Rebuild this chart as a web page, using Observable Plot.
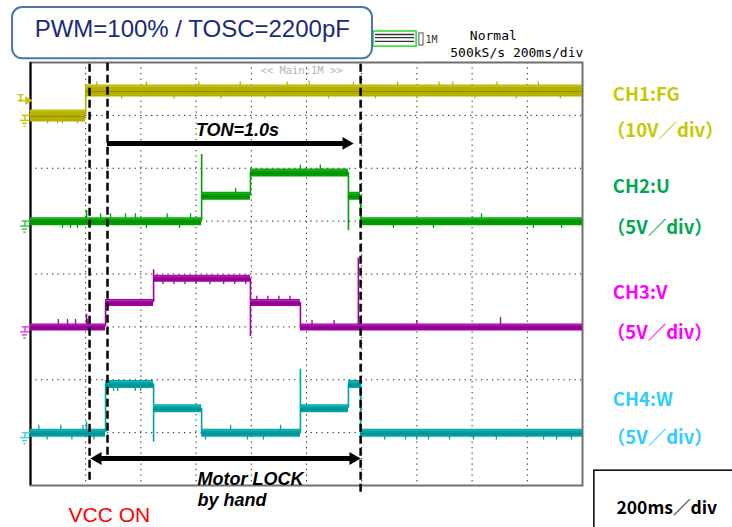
<!DOCTYPE html>
<html>
<head>
<meta charset="utf-8">
<script src="https://cdn.jsdelivr.net/npm/d3@7"></script>
<script src="https://cdn.jsdelivr.net/npm/@observablehq/plot@0.6"></script>
<style>
  html, body { margin: 0; padding: 0; background: #fff; overflow: hidden; }
  #chart svg { display: block; }
</style>
</head>
<body>
<div id="chart"></div>
<script>
// ---------- data (time in ms, 200 ms/div; vertical in scope divisions) ----------
const timeGrid = [200, 400, 600, 800, 1000, 1200, 1400, 1600, 1800];
const divGrid = [1, 2, 3, 4, 5, 6, 7];

const channelNames = ["CH1:FG", "CH2:U", "CH3:V", "CH4:W"];
const channelScales = ["（10V／div）", "（5V／div）", "（5V／div）", "（5V／div）"];
const voltsPerDiv = [10, 5, 5, 5];
const groundDiv = [7, 5, 3, 1];

// step waveforms: edge times (ms) and level (V) of each segment
const ch1Times = [0, 200, 2000];
const ch1Levels = [0, 4.7];
const ch2Times = [0, 620, 797, 1152, 1196, 2000];
const ch2Levels = [0, 2.4, 4.6, 2.4, 0];
const ch3Times = [0, 272, 446, 797, 978, 2000];
const ch3Levels = [0, 2.3, 4.6, 2.3, 0];
const ch4Times = [0, 272, 446, 620, 978, 1152, 1196, 2000];
const ch4Levels = [0, 4.6, 2.3, 0, 2.3, 4.6, 0];

// switching transients: [time ms, peak V]
const ch1Spikes = [];
const ch2Spikes = [[203, 1.0], [620, 6.3], [1152, -0.9]];
const ch3Spikes = [[203, 1.2], [446, 5.4], [797, -0.9], [1188, 6.5]];
const ch4Spikes = [[203, 1.0], [446, -0.9], [978, 6.0], [1196, -0.5]];

// small noise glitches: [time ms, offset V]
const ch1Glitches = [[62, -1.6], [98, -1.6], [116, -1.6], [170, -1.6], [240, 1.6], [330, -1.6], [420, 1.6], [520, -1.6],
  [610, 1.6], [690, -1.6], [760, 1.6], [850, -1.6], [930, 1.6], [1010, 1.8], [1080, -1.6], [1170, 1.6], [1250, -1.6],
  [1330, 1.6], [1400, -1.6], [1480, 1.6], [1530, 1.6], [1610, -1.6], [1690, 1.6], [1760, -1.6], [1840, 1.6], [1920, -1.6]];
const ch2Glitches = [[116, -0.7], [145, -0.7], [170, -0.7], [254, 0.7], [290, 0.7], [344, 0.7], [380, 0.7], [420, -0.7],
  [495, 0.7], [540, -0.7], [580, 0.7], [743, 0.7], [978, 0.7], [1050, 0.7], [1315, -0.7], [1460, -0.7], [1634, 0.7],
  [1822, -0.7], [1924, -0.7]];
const ch3Glitches = [[101, 0.7], [134, 0.7], [163, 0.7], [207, 0.7], [480, -0.6], [520, -0.6], [560, -0.6], [600, -0.6],
  [650, -0.6], [700, -0.6], [740, -0.6], [780, -0.6], [820, 0.6], [860, 0.6], [900, 0.6], [940, 0.6], [1020, 0.6],
  [1100, 0.6], [1400, 0.6], [1703, 0.9]];
const ch4Glitches = [[30, 0.7], [60, -0.7], [110, 0.7], [150, -0.7], [190, 0.7], [230, -0.7], [301, -0.7], [316, -0.7],
  [380, -0.7], [399, -0.7], [634, -0.7], [725, 0.7], [786, -0.7], [844, -0.7], [906, 0.7], [1283, -0.7], [1359, -0.7],
  [1399, -0.7], [1442, -0.7], [1518, -0.7], [1605, -0.7], [1688, -0.7], [1859, -0.7], [1906, -0.7], [1960, -0.7]];

const titleText = "PWM=100% / TOSC=2200pF";
const timebaseText = "200ms／div";

// ---------- build tables ----------
const waveTimes = [ch1Times, ch2Times, ch3Times, ch4Times];
const waveLevels = [ch1Levels, ch2Levels, ch3Levels, ch4Levels];
const waveSpikes = [ch1Spikes, ch2Spikes, ch3Spikes, ch4Spikes];
const waveGlitches = [ch1Glitches, ch2Glitches, ch3Glitches, ch4Glitches];

const toDiv = (c, v) => groundDiv[c] + v / voltsPerDiv[c];
function levelAt(c, t) {
  const ts = waveTimes[c];
  let i = 0;
  while (i + 1 < ts.length - 1 && ts[i + 1] <= t) i++;
  return waveLevels[c][i];
}
function segments(c) {
  const ts = waveTimes[c], ls = waveLevels[c];
  return ls.map((v, i) => ({x1: ts[i], x2: ts[i + 1], y: toDiv(c, v)}));
}
function edges(c) {
  const ts = waveTimes[c], ls = waveLevels[c];
  return ls.slice(1).map((v, i) => ({x: ts[i + 1], y1: toDiv(c, ls[i]), y2: toDiv(c, v)}));
}
function spikes(c) {
  return waveSpikes[c].map(([t, v]) => ({x: t, y1: toDiv(c, levelAt(c, t)), y2: toDiv(c, v)}));
}
function glitches(c) {
  return waveGlitches[c].map(([t, g]) => ({x: t, y1: toDiv(c, levelAt(c, t)), y2: toDiv(c, levelAt(c, t) + g)}));
}

// ---------- styles ----------
const traceColor = ["#b6b100", "#00a000", "#a000a0", "#00a3a3"];
const traceDark = ["#908b00", "#007e00", "#7e007e", "#008282"];
const traceLight = ["#cfcb2a", "#28b828", "#b830b8", "#2ab8b8"];
const traceWidth = [12, 8, 7, 8];
const markerColor = ["#c8c400", "#44c044", "#e040e0", "#44d4d4"];
const labelColor = ["#c8c800", "#00a850", "#ff00ff", "#33ccff"];
const labelNameY = [7.38, 5.65, 3.63, 1.61];
const labelScaleY = [6.71, 4.87, 2.89, 0.89];

const sans = "Liberation Sans, Arial, Helvetica, sans-serif";
const cjk = "Noto Sans CJK JP, sans-serif";
const mono = "DejaVu Sans Mono, Liberation Mono, monospace";

const marks = [];

// graticule
marks.push(Plot.ruleX(timeGrid, {stroke: "#222", strokeWidth: 1, strokeDasharray: "1.3,4.2"}));
marks.push(Plot.ruleY(divGrid, {stroke: "#222", strokeWidth: 1, strokeDasharray: "1.3,4.2"}));
marks.push(Plot.frame({stroke: "#707070", strokeWidth: 2}));
marks.push(Plot.ruleX([0], {stroke: "#000", strokeWidth: 2}));

// "<< Main:1M >>"
marks.push(Plot.text(["<< Main:1M >>"], {x: () => 982, y: () => 7.85, fill: "#b4b4b4", fontSize: 10.5, fontFamily: mono}));

// traces
for (let c = 0; c < 4; c++) {
  const segs = segments(c);
  marks.push(Plot.ruleX(edges(c), {x: "x", y1: "y1", y2: "y2", stroke: traceColor[c], strokeWidth: 1.6}));
  marks.push(Plot.ruleX(spikes(c), {x: "x", y1: "y1", y2: "y2", stroke: traceColor[c], strokeWidth: 1.6}));
  marks.push(Plot.ruleX(glitches(c), {x: "x", y1: "y1", y2: "y2", stroke: traceColor[c], strokeWidth: 1.3}));
  marks.push(Plot.ruleY(segs, {x1: "x1", x2: "x2", y: "y", stroke: traceColor[c], strokeWidth: traceWidth[c]}));
  marks.push(Plot.ruleY(segs, {x1: "x1", x2: "x2", y: "y", stroke: traceDark[c], strokeWidth: 1, dy: 1}));
  marks.push(Plot.ruleY(segs, {x1: "x1", x2: "x2", y: "y", stroke: traceLight[c], strokeWidth: 1, dy: -traceWidth[c] / 2 + 1.5}));
  // ground marker
  const g = [{y: groundDiv[c]}];
  marks.push(Plot.ruleY(g, {x1: () => -30, x2: () => 0, y: "y", stroke: markerColor[c], strokeWidth: 1.5}));
  marks.push(Plot.ruleX(g, {x: () => -20, y1: "y", y2: d => d.y - 0.095, stroke: markerColor[c], strokeWidth: 1.5}));
  marks.push(Plot.ruleY(g, {x1: () => -36, x2: () => -4, y: "y", stroke: markerColor[c], strokeWidth: 1.5, dy: 5}));
  marks.push(Plot.ruleY(g, {x1: () => -29, x2: () => -11, y: "y", stroke: markerColor[c], strokeWidth: 1.5, dy: 8}));
  marks.push(Plot.ruleY(g, {x1: () => -24, x2: () => -16, y: "y", stroke: markerColor[c], strokeWidth: 1.5, dy: 11}));
}
// trigger marker on CH1
marks.push(Plot.text(["T"], {x: () => -35, y: () => 7.32, fill: markerColor[0], fontSize: 10, fontWeight: "bold", fontFamily: sans}));
marks.push(Plot.ruleY([7.28], {x1: () => -45, x2: () => -8, stroke: markerColor[0], strokeWidth: 1.5}));
marks.push(Plot.dot([0], {x: () => -10, y: () => 7.28, symbol: "triangle", r: 3.2, rotate: 90, fill: markerColor[0], stroke: null}));

// dashed markers
marks.push(Plot.ruleX([214], {y1: () => 0.1, y2: () => 8, stroke: "#000", strokeWidth: 2.5, strokeDasharray: "8,4"}));
marks.push(Plot.ruleX([279], {y1: () => 0.57, y2: () => 8, stroke: "#000", strokeWidth: 2.5, strokeDasharray: "8,4"}));
marks.push(Plot.ruleX([1196], {y1: () => -0.13, y2: () => 8, stroke: "#000", strokeWidth: 2.5, strokeDasharray: "8,4"}));

// TON arrow
marks.push(Plot.ruleY([6.47], {x1: () => 279, x2: () => 1150, stroke: "#000", strokeWidth: 5}));
marks.push(Plot.dot([0], {x: () => 1144, y: () => 6.47, symbol: "triangle", r: 4.8, rotate: 90, fill: "#000", stroke: null}));
marks.push(Plot.text(["TON=1.0s"], {x: () => 750, y: () => 6.71, fontSize: 18, fontWeight: "bold", fontStyle: "italic", fontFamily: sans, fill: "#000"}));

// Motor LOCK arrow
marks.push(Plot.ruleY([0.51], {x1: () => 240, x2: () => 1172, stroke: "#000", strokeWidth: 5}));
marks.push(Plot.dot([0], {x: () => 244, y: () => 0.51, symbol: "triangle", r: 4.8, rotate: -90, fill: "#000", stroke: null}));
marks.push(Plot.dot([0], {x: () => 1169, y: () => 0.51, symbol: "triangle", r: 4.8, rotate: 90, fill: "#000", stroke: null}));
marks.push(Plot.text(["Motor LOCK"], {x: () => 605, y: () => 0.12, textAnchor: "start", fontSize: 18, fontWeight: "bold", fontStyle: "italic", fontFamily: sans, fill: "#000"}));
marks.push(Plot.text(["by hand"], {x: () => 605, y: () => -0.27, textAnchor: "start", fontSize: 18, fontWeight: "bold", fontStyle: "italic", fontFamily: sans, fill: "#000"}));

// VCC ON
marks.push(Plot.text(["VCC ON"], {x: () => 138, y: () => -0.56, textAnchor: "start", fontSize: 21, fontFamily: sans, fill: "#ff0000"}));

// channel labels
for (let c = 0; c < 4; c++) {
  marks.push(Plot.text([channelNames[c]], {x: () => 2110, y: () => labelNameY[c], textAnchor: "start", fontSize: 18.5, fontWeight: "bold", fontFamily: cjk, fill: labelColor[c]}));
  marks.push(Plot.text([channelScales[c]], {x: () => 2088, y: () => labelScaleY[c], textAnchor: "start", fontSize: 18.5, fontWeight: "bold", fontFamily: cjk, fill: labelColor[c]}));
}

// timebase box
marks.push(Plot.rect([0], {x1: () => 2043, x2: () => 2560, y1: () => -0.9, y2: () => 0.28, fill: "none", stroke: "#000", strokeWidth: 1.5}));
marks.push(Plot.text([timebaseText], {x: () => 2123, y: () => -0.44, textAnchor: "start", fontSize: 17.5, fontWeight: "bold", fontFamily: cjk, fill: "#000"}));

// scope status (top right)
marks.push(Plot.rect([0], {x1: () => 1243, x2: () => 1399, y1: () => 8.30, y2: () => 8.586, fill: "#fff", stroke: "#22dd22", strokeWidth: 1.5}));
marks.push(Plot.ruleY([8.53, 8.47, 8.40], {x1: () => 1250, x2: () => 1392, stroke: "#333", strokeWidth: 1.4}));
marks.push(Plot.rect([0], {x1: () => 1409, x2: () => 1424, y1: () => 8.32, y2: () => 8.55, fill: "none", stroke: "#555", strokeWidth: 1}));
marks.push(Plot.text(["1M"], {x: () => 1431, y: () => 8.43, textAnchor: "start", fontSize: 10, fontFamily: mono, fill: "#333"}));
marks.push(Plot.text(["Normal"], {x: () => 1677, y: () => 8.51, fontSize: 13, fontFamily: mono, fill: "#000"}));
marks.push(Plot.text(["500kS/s 200ms/div"], {x: () => 2003, y: () => 8.19, textAnchor: "end", fontSize: 13, fontFamily: mono, fill: "#000"}));

// title box
marks.push(Plot.rect([0], {x1: () => -65, x2: () => 1239, y1: () => 8.07, y2: () => 9.04, rx: 10, fill: "#fff", stroke: "#4a76ad", strokeWidth: 2}));
marks.push(Plot.text([titleText], {x: () => 15, y: () => 8.62, textAnchor: "start", fontSize: 24, fontFamily: sans, fill: "#1b2a78"}));

const chart = Plot.plot({
  width: 732,
  height: 527,
  marginLeft: 30,
  marginRight: 150,
  marginTop: 62,
  marginBottom: 42,
  x: {domain: [0, 2000], axis: null},
  y: {domain: [0, 8], axis: null},
  style: {background: "#fff"},
  marks
});
document.getElementById("chart").appendChild(chart);
</script>
</body>
</html>
